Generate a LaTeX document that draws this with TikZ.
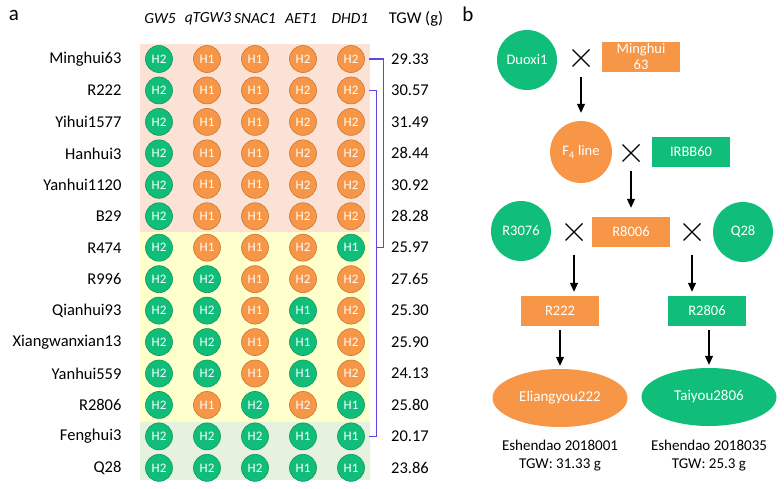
\documentclass[tikz,border=0pt]{standalone}
\usepackage{fontspec}
\setmainfont{Carlito}
\usetikzlibrary{arrows.meta,shapes.geometric,shapes.misc,positioning}

\definecolor{grn}{RGB}{16,190,122}
\definecolor{org}{RGB}{247,150,70}
\definecolor{bgpink}{RGB}{252,226,212}
\definecolor{bgyel}{RGB}{255,255,204}
\definecolor{bggrn}{RGB}{228,242,222}
\definecolor{brk}{RGB}{98,70,222}

\tikzset{
  panel/.style={font=\fontsize{21}{21}\selectfont},
  hdr/.style={font=\fontsize{15.5}{18}\selectfont\itshape},
  rowlab/.style={anchor=east,font=\fontsize{16.5}{18}\selectfont},
  valtxt/.style={font=\fontsize{16.5}{18}\selectfont},
  allele/.style={circle,minimum size=27pt,inner sep=0pt,line width=0.6pt,
    text=white,font=\fontsize{13}{13}\selectfont},
  bracket/.style={brk,line width=1.1pt},
  parent/.style={circle,minimum size=60pt,inner sep=0pt,text=white,
    font=\fontsize{14.5}{16}\selectfont},
  box/.style={rectangle,minimum width=78pt,minimum height=30pt,inner sep=1pt,
    text=white,align=center,font=\fontsize{14.5}{16}\selectfont},
  hybrid/.style={ellipse,minimum width=135pt,minimum height=58pt,inner sep=0pt,
    text=white,font=\fontsize{15}{16}\selectfont},
  note/.style={align=center,font=\fontsize{15}{18}\selectfont},
  crossmark/.style={cross out,draw,minimum size=17pt,inner sep=0pt,outer sep=0pt,
    line width=1.2pt},
  arr/.style={-{Triangle[length=9pt,width=8pt]},line width=1.1pt}
}

\begin{document}
\begin{tikzpicture}[x=1pt,y=-1pt]
  \useasboundingbox (0,0) rectangle (784,488);

  % panel a
  \node[panel] (pa) at (14,15) {a};

  \fill[bgpink] (140,44) rectangle (370,232);
  \fill[bgyel] (140,232) rectangle (370,422);
  \fill[bggrn] (140,422) rectangle (370,480);

  \foreach \g/\hx [count=\k] in {GW5/160,qTGW3/208,SNAC1/255,AET1/301,DHD1/350}
    \node[hdr] (h\k) at (\hx,19) {\g};
  \node[valtxt] (htgw) at (416,19) {TGW (g)};

  \foreach \nm/\gt/\tg [count=\r] in {
      Minghui63/{2/grn,1/org,1/org,2/org,2/org}/29.33,
      R222/{2/grn,1/org,1/org,2/org,2/org}/30.57,
      Yihui1577/{2/grn,1/org,1/org,2/org,2/org}/31.49,
      Hanhui3/{2/grn,1/org,1/org,2/org,2/org}/28.44,
      Yanhui1120/{2/grn,1/org,1/org,2/org,2/org}/30.92,
      B29/{2/grn,1/org,1/org,2/org,2/org}/28.28,
      R474/{2/grn,1/org,1/org,2/org,1/grn}/25.97,
      R996/{2/grn,2/grn,1/org,2/org,2/org}/27.65,
      Qianhui93/{2/grn,2/grn,1/org,1/grn,2/org}/25.30,
      Xiangwanxian13/{2/grn,2/grn,1/org,1/grn,2/org}/25.90,
      Yanhui559/{2/grn,2/grn,1/org,1/grn,2/org}/24.13,
      R2806/{2/grn,1/org,2/grn,2/org,1/grn}/25.80,
      Fenghui3/{2/grn,2/grn,2/grn,1/grn,1/grn}/20.17,
      Q28/{2/grn,2/grn,2/grn,1/grn,1/grn}/23.86} {
    \node[rowlab] (n\r) at (125,{59+(\r-1)*31.45}) {\nm};
    \foreach \a/\c [count=\k] in \gt
      \node[allele,fill=\c,draw=\c!80!black] (c\r-\k)
        at ({159+(\k-1)*48},{59+(\r-1)*31.45}) {H\a};
    \node[valtxt] (t\r) at (410,{59+(\r-1)*31.45}) {\tg};
  }

  \draw[bracket] ([xshift=4pt]c1-5.east) -| ([xshift=19pt]c7-5.east)
    -- ([xshift=12pt]c7-5.east);
  \draw[bracket] ([xshift=4pt]c2-5.east) -| ([xshift=12pt]c13-5.east)
    -- ([xshift=4pt]c13-5.east);

  % panel b
  \node[panel] (pb) at (468,14) {b};

  \node[parent,fill=grn] (duoxi) at (527,60) {Duoxi1};
  \node[crossmark] (x1) at (581,58) {};
  \node[box,fill=org] (mh63) at (641,57) {Minghui\\63};
  \node[parent,fill=org,minimum size=62pt] (f4) at (581,152) {F\textsubscript{4} line};
  \node[crossmark] (x2) at (631,153) {};
  \node[box,fill=grn] (irbb) at (691,152) {IRBB60};
  \node[parent,fill=grn] (r3076) at (521,231) {R3076};
  \node[crossmark] (x3) at (574,232) {};
  \node[box,fill=org] (r8006) at (631,232) {R8006};
  \node[crossmark] (x4) at (692,232) {};
  \node[parent,fill=grn] (q28) at (743,232) {Q28};
  \node[box,fill=org] (r222) at (560,311) {R222};
  \node[box,fill=grn] (r2806) at (707,311) {R2806};
  \node[hybrid,fill=org] (ely) at (560,398) {Eliangyou222};
  \node[hybrid,fill=grn] (tai) at (709,397) {Taiyou2806};
  \node[note] (elyn) at (560,456) {Eshendao 2018001\\TGW: 31.33 g};
  \node[note] (tain) at (709,456) {Eshendao 2018035\\TGW: 25.3 g};

  \draw[arr,shorten <=10.5pt,shorten >=8pt] (x1.south) -- (f4.north);
  \draw[arr,shorten <=9.5pt,shorten >=9pt] (x2.south) -- (r8006.north);
  \draw[arr,shorten <=14.5pt,shorten >=4pt] (x3.south) -- (x3.south |- r222.north);
  \draw[arr,shorten <=14.5pt,shorten >=4pt] (x4.south) -- (x4.south |- r2806.north);
  \draw[arr,shorten <=4pt,shorten >=3pt] (r222.south) -- (ely.north);
  \draw[arr,shorten <=4pt,shorten >=3pt] (r2806.south -| tai.north) -- (tai.north);

\end{tikzpicture}
\end{document}
